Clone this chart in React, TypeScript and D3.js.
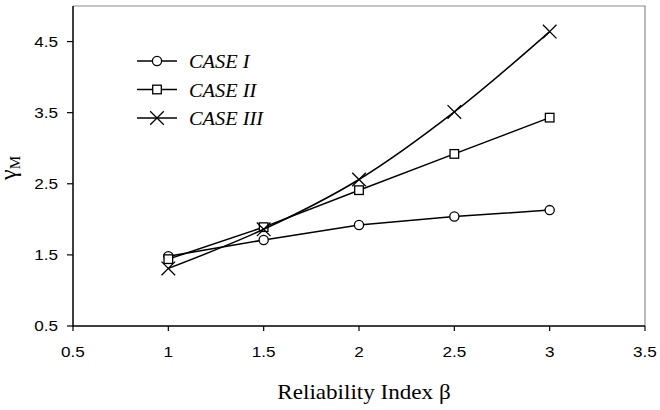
import React, { useEffect, useRef } from "react";
import * as d3 from "d3";

const beta = [1, 1.5, 2, 2.5, 3];
const caseI = [1.48, 1.71, 1.92, 2.04, 2.13];
const caseII = [1.44, 1.89, 2.41, 2.92, 3.43];
const caseIII = [1.31, 1.86, 2.56, 3.51, 4.64];
const seriesNames = ["CASE I", "CASE II", "CASE III"];
const xTicks = [0.5, 1, 1.5, 2, 2.5, 3, 3.5];
const yTicks = [0.5, 1.5, 2.5, 3.5, 4.5];

const W = 660;
const H = 410;
const margin = { left: 73, right: 15, top: 6, bottom: 84 };

type Marker = "circle" | "square" | "cross";

const App: React.FC = () => {
  const svgRef = useRef<SVGSVGElement | null>(null);

  useEffect(() => {
    if (!svgRef.current) return;
    const svg = d3.select(svgRef.current);
    svg.selectAll("*").remove();

    const x = d3
      .scaleLinear()
      .domain([0.5, 3.5])
      .range([margin.left, W - margin.right]);
    const y = d3
      .scaleLinear()
      .domain([0.5, 5.0])
      .range([H - margin.bottom, margin.top]);

    const x0 = x.range()[0];
    const x1 = x.range()[1];
    const y0 = y.range()[0];
    const y1 = y.range()[1];

    // plot area frame: grey top/right, black axes
    svg
      .append("path")
      .attr("d", `M${x0},${y1}H${x1}V${y0}`)
      .attr("fill", "none")
      .attr("stroke", "#8c8c8c")
      .attr("stroke-width", 1.2);
    svg
      .append("path")
      .attr("d", `M${x0},${y1}V${y0}H${x1}`)
      .attr("fill", "none")
      .attr("stroke", "#000")
      .attr("stroke-width", 1.5);

    const stretched = (
      sel: d3.Selection<SVGTextElement, unknown, null, undefined>,
      tx: number,
      ty: number,
      sx: number
    ) => sel.attr("transform", `translate(${tx},${ty}) scale(${sx},1)`);

    // y ticks
    yTicks.forEach((v) => {
      svg
        .append("line")
        .attr("x1", x0 - 6)
        .attr("x2", x0)
        .attr("y1", y(v))
        .attr("y2", y(v))
        .attr("stroke", "#000")
        .attr("stroke-width", 1.2);
      const t = svg
        .append("text")
        .attr("text-anchor", "end")
        .attr("dominant-baseline", "central")
        .attr("font-family", "Liberation Sans, Arial, sans-serif")
        .attr("font-size", 14.5)
        .text(v.toFixed(1));
      stretched(t, x0 - 15, y(v), 1.18);
    });

    // x ticks
    xTicks.forEach((v) => {
      svg
        .append("line")
        .attr("x1", x(v))
        .attr("x2", x(v))
        .attr("y1", y0)
        .attr("y2", y0 + 5)
        .attr("stroke", "#000")
        .attr("stroke-width", 1.2);
      const t = svg
        .append("text")
        .attr("text-anchor", "middle")
        .attr("font-family", "Liberation Sans, Arial, sans-serif")
        .attr("font-size", 14.5)
        .text(String(v));
      stretched(t, x(v), y0 + 31, 1.18);
    });

    // axis titles
    const xt = svg
      .append("text")
      .attr("text-anchor", "middle")
      .attr("font-family", "Liberation Serif, Times New Roman, serif")
      .attr("font-size", 21)
      .text("Reliability Index β");
    stretched(xt, 364, 399, 1.1);

    const yt = svg
      .append("text")
      .attr("text-anchor", "middle")
      .attr("transform", "translate(16,168) rotate(-90)")
      .attr("font-family", "Liberation Serif, Times New Roman, serif");
    yt.append("tspan").attr("font-size", 24).text("γ");
    yt.append("tspan").attr("font-size", 15).attr("dy", 4).text("M");

    const drawMarker = (
      g: d3.Selection<SVGGElement, unknown, null, undefined>,
      kind: Marker,
      cx: number,
      cy: number
    ) => {
      if (kind === "circle") {
        g.append("circle")
          .attr("cx", cx)
          .attr("cy", cy)
          .attr("r", 4.6)
          .attr("fill", "#fff")
          .attr("stroke", "#000")
          .attr("stroke-width", 1.3);
      } else if (kind === "square") {
        g.append("rect")
          .attr("x", cx - 4.3)
          .attr("y", cy - 4.3)
          .attr("width", 8.6)
          .attr("height", 8.6)
          .attr("fill", "#fff")
          .attr("stroke", "#000")
          .attr("stroke-width", 1.3);
      } else {
        const s = 6.8;
        g.append("path")
          .attr("d", `M${cx - s},${cy - s}L${cx + s},${cy + s}M${cx - s},${cy + s}L${cx + s},${cy - s}`)
          .attr("stroke", "#000")
          .attr("stroke-width", 1.3);
      }
    };

    const series: { values: number[]; marker: Marker; curve: d3.CurveFactory }[] = [
      { values: caseI, marker: "circle", curve: d3.curveLinear },
      { values: caseII, marker: "square", curve: d3.curveLinear },
      { values: caseIII, marker: "cross", curve: d3.curveCatmullRom },
    ];

    series.forEach((s) => {
      const pts = beta.map((b, i) => [b, s.values[i]] as [number, number]);
      const line = d3
        .line<[number, number]>()
        .x((d) => x(d[0]))
        .y((d) => y(d[1]))
        .curve(s.curve);
      const g = svg.append("g");
      g.append("path")
        .attr("d", line(pts))
        .attr("fill", "none")
        .attr("stroke", "#000")
        .attr("stroke-width", 1.5);
      pts.forEach((p) => drawMarker(g, s.marker, x(p[0]), y(p[1])));
    });

    // legend
    const legendY = [61, 89.5, 118];
    series.forEach((s, i) => {
      const g = svg.append("g");
      g.append("line")
        .attr("x1", 137)
        .attr("x2", 177)
        .attr("y1", legendY[i])
        .attr("y2", legendY[i])
        .attr("stroke", "#000")
        .attr("stroke-width", 1.5);
      drawMarker(g, s.marker, 157, legendY[i]);
      const t = g
        .append("text")
        .attr("font-family", "Liberation Serif, Times New Roman, serif")
        .attr("font-style", "italic")
        .attr("font-size", 18.5)
        .attr("dominant-baseline", "central")
        .text(seriesNames[i]);
      stretched(t, 189, legendY[i] + 1, 1.1);
    });
  }, []);

  return (
    <svg
      ref={svgRef}
      width={W}
      height={H}
      style={{ position: "absolute", left: 0, top: 0, background: "#fff" }}
    />
  );
};

export default App;
